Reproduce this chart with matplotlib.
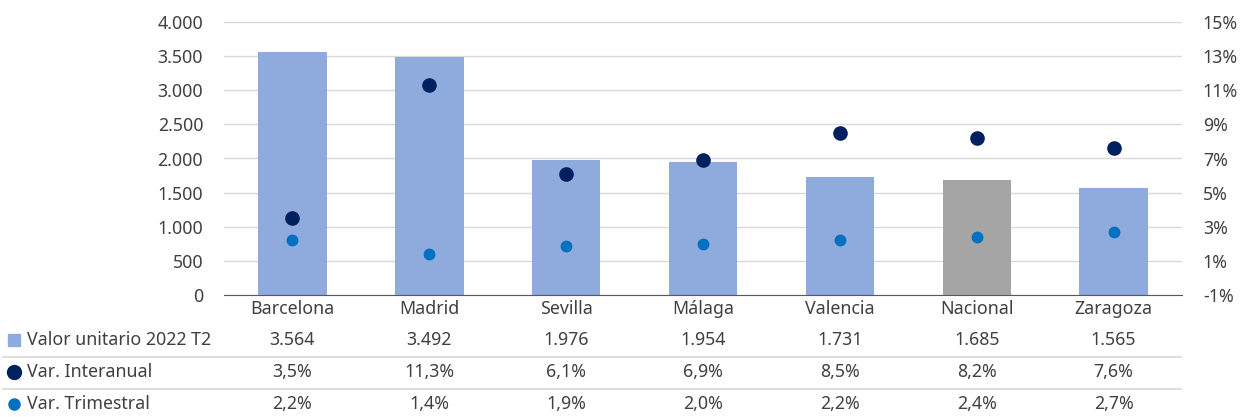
import matplotlib
matplotlib.use("Agg")
import matplotlib.pyplot as plt
from matplotlib.transforms import blended_transform_factory
from matplotlib.lines import Line2D

plt.rcParams["font.family"] = ["Noto Sans", "DejaVu Sans"]

cities = ["Barcelona", "Madrid", "Sevilla", "Málaga", "Valencia", "Nacional", "Zaragoza"]
valor = [3564, 3492, 1976, 1954, 1731, 1685, 1565]
var_interanual = [3.5, 11.3, 6.1, 6.9, 8.5, 8.2, 7.6]
var_trimestral = [2.2, 1.4, 1.9, 2.0, 2.2, 2.4, 2.7]
row_labels = ["Valor unitario 2022 T2", "Var. Interanual", "Var. Trimestral"]

BAR = "#8FAADC"
NAC = "#A5A5A5"
DARK = "#002060"
LIGHT = "#0070C0"
TXT = "#404040"
GRID = "#D9D9D9"
FS = 12.8

W, H = 1246, 417
fig = plt.figure(figsize=(W / 100, H / 100), dpi=100)
ax = fig.add_axes([224 / W, (H - 295) / H, (1182 - 224) / W, (295 - 22) / H])
ax2 = ax.twinx()

x = list(range(len(cities)))
colors = [NAC if c == "Nacional" else BAR for c in cities]
ax.bar(x, valor, width=0.5, color=colors, zorder=2)
ax.set_xlim(-0.5, len(cities) - 0.5)
ax.set_ylim(0, 4000)
ax.set_yticks(range(0, 4001, 500))
ax.set_yticklabels([f"{v:,}".replace(",", ".") for v in range(0, 4001, 500)])
ax.yaxis.grid(True, color=GRID, lw=1)
ax.set_axisbelow(True)
ax.set_xticks([])

ax2.set_ylim(-1, 15)
ax2.set_yticks(range(-1, 16, 2))
ax2.set_yticklabels([f"{v}%" for v in range(-1, 16, 2)])
ax2.plot(x, var_interanual, "o", color=DARK, ms=9.5, zorder=3, ls="none")
ax2.plot(x, var_trimestral, "o", color=LIGHT, ms=7.5, zorder=3, ls="none")

for a in (ax, ax2):
    for s in ("top", "left", "right"):
        a.spines[s].set_visible(False)
    a.tick_params(length=0, labelsize=FS, labelcolor=TXT)
ax.spines["bottom"].set_color("#595959")
ax2.spines["bottom"].set_visible(False)
ax.tick_params(axis="y", pad=15)
ax2.tick_params(axis="y", pad=15)

# data table below the chart
tr = blended_transform_factory(ax.transData, fig.transFigure)
fy = lambda py: (H - py) / H
for i, c in enumerate(cities):
    fig.text(i, fy(309), c, transform=tr, ha="center", va="center", fontsize=FS, color=TXT)
    fig.text(i, fy(340), f"{valor[i]:,}".replace(",", "."), transform=tr,
             ha="center", va="center", fontsize=FS, color=TXT)
    fig.text(i, fy(372), f"{var_interanual[i]:.1f}%".replace(".", ","), transform=tr,
             ha="center", va="center", fontsize=FS, color=TXT)
    fig.text(i, fy(404), f"{var_trimestral[i]:.1f}%".replace(".", ","), transform=tr,
             ha="center", va="center", fontsize=FS, color=TXT)

markers = [("s", BAR, 9), ("o", DARK, 10), ("o", LIGHT, 8)]
for (m, col, ms), lab, py in zip(markers, row_labels, (340, 372, 404)):
    fig.add_artist(Line2D([14 / W], [fy(py)], marker=m, color=col, ms=ms,
                          ls="none", transform=fig.transFigure))
    fig.text(27 / W, fy(py), lab, ha="left", va="center", fontsize=FS, color=TXT)

for py in (357, 389):
    fig.add_artist(Line2D([3 / W, 1181 / W], [fy(py), fy(py)], color=GRID, lw=1.2,
                          transform=fig.transFigure))

fig.savefig("out.png", dpi=100)
